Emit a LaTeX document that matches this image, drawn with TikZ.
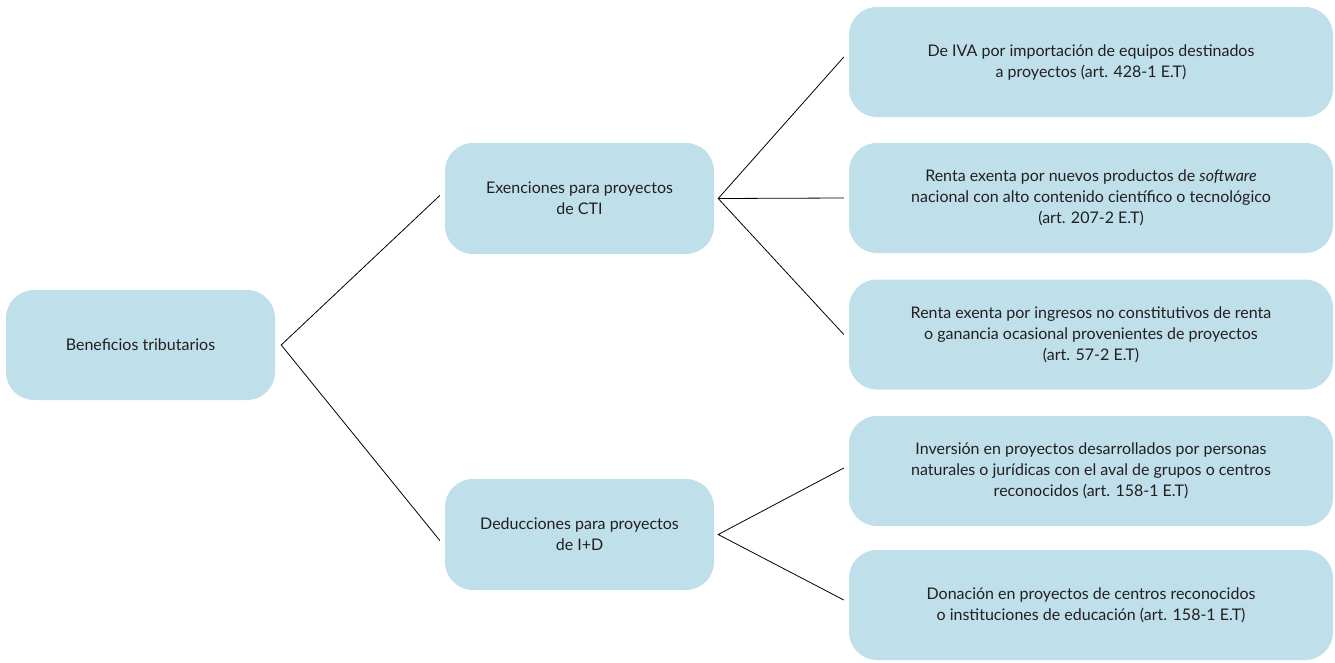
\documentclass[tikz,border=0pt]{standalone}
\usepackage{fontspec}
\setmainfont{Lato}
\usetikzlibrary{calc}
\definecolor{boxblue}{RGB}{191,223,235}
\definecolor{txt}{RGB}{35,31,32}
\tikzset{
  bx/.style={fill=boxblue, draw=none, rounded corners=28pt, align=center,
    text=txt, font=\fontsize{16}{21}\selectfont, inner sep=0pt},
  rootbox/.style={bx, minimum width=269pt, minimum height=110pt},
  midbox/.style={bx, minimum width=269pt, minimum height=111pt},
  rbox/.style={bx, minimum width=484pt, minimum height=110pt},
  conn/.style={draw=black, line width=0.8pt}
}
\begin{document}
\begin{tikzpicture}[x=1pt,y=-1pt]
\useasboundingbox (0,0) rectangle (1335,662);
\node[rootbox] (root) at (140.5,345) {Beneficios tributarios};
\node[midbox] (m1) at (579.5,198.5) {Exenciones para proyectos\\de CTI};
\node[midbox] (m2) at (579.5,534.5) {Deducciones para proyectos\\de I+D};
\node[rbox] (r1) at (1091,62) {De IVA por importación de equipos destinados\\a proyectos (art. 428-1 E.T)};
\node[rbox] (r2) at (1091,198) {Renta exenta por nuevos productos de \textit{software}\\nacional con alto contenido científico o tecnológico\\(art. 207-2 E.T)};
\node[rbox] (r3) at (1091,334.5) {Renta exenta por ingresos no constitutivos de renta\\o ganancia ocasional provenientes de proyectos\\(art. 57-2 E.T)};
\node[rbox] (r4) at (1091,471) {Inversión en proyectos desarrollados por personas\\naturales o jurídicas con el aval de grupos o centros\\reconocidos (art. 158-1 E.T)};
\node[rbox] (r5) at (1091,605) {Donación en proyectos de centros reconocidos\\o instituciones de educación (art. 158-1 E.T)};
\coordinate (a0) at ([xshift=6pt]root.east);
\coordinate (a1) at ([xshift=4pt]m1.east);
\coordinate (a2) at ([xshift=4pt]m2.east);
\coordinate (e1) at ([xshift=-5pt,yshift=3pt]m1.west);
\coordinate (e2) at ([xshift=-5pt,yshift=-6pt]m2.west);
\coordinate (f1) at ([xshift=-5pt,yshift=5pt]r1.west);
\coordinate (f2) at ([xshift=-5pt]r2.west);
\coordinate (f3) at ([xshift=-5pt]r3.west);
\coordinate (f4) at ([xshift=-5pt,yshift=3pt]r4.west);
\coordinate (f5) at ([xshift=-5pt,yshift=5pt]r5.west);
\draw[conn] (e1) -- (a0) -- (e2);
\draw[conn] (f1) -- (a1) -- (f3);
\draw[conn] (a1) -- (f2);
\draw[conn] (f4) -- (a2) -- (f5);
\end{tikzpicture}
\end{document}
